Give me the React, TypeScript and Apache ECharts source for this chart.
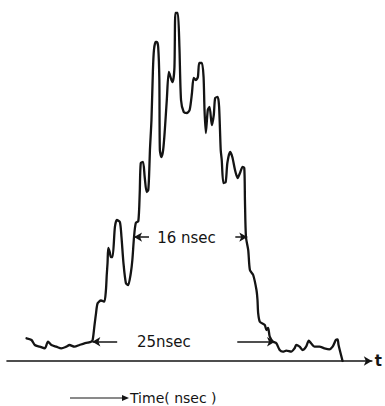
import React, { useEffect, useRef } from "react";
import * as echarts from "echarts";

// Time in nsec
const timeNs = [
  2.68, 3.36, 3.81, 4.49, 5.17, 5.62, 6.08, 6.76, 7.44, 8.12, 8.57, 9.25, 9.93, 10.61, 11.06, 11.52,
  11.74, 11.97, 12.2, 12.42, 12.88, 13.33, 13.56, 13.67, 13.78, 13.88, 14.08, 14.24, 14.46, 14.79,
  15.06, 15.47, 15.69, 15.96, 16.29, 16.6, 16.97, 17.18, 17.41, 17.65, 18.0, 18.19, 18.33, 18.64,
  18.87, 19.14, 19.36, 19.5, 19.59, 19.8, 20.0, 20.14, 20.37, 20.54, 20.72, 20.88, 20.95, 21.16,
  21.4, 21.63, 21.9, 22.18, 22.54, 22.72, 22.95, 23.09, 23.4, 23.63, 23.85, 24.22, 24.67, 25.03,
  25.35, 25.58, 25.89, 26.16, 26.35, 26.71, 26.94, 27.07, 27.25, 27.52, 27.76, 28.07, 28.34, 28.53,
  28.88, 29.07, 29.29, 29.43, 29.66, 29.97, 30.2, 30.57, 30.88, 31.25, 31.61, 31.93, 32.29, 32.52,
  32.61, 32.75, 33.06, 33.29, 33.74, 34.19, 34.33, 34.42, 34.65, 35.33, 35.55, 35.78, 36.01, 36.46,
  36.91, 37.37, 37.82, 38.27, 38.95, 39.41, 39.63, 40.1, 40.54, 40.99, 41.36, 41.67, 42.14, 42.82,
  43.5, 44.18, 44.63, 45.07, 45.31, 45.44, 45.99,
];

// Signal amplitude (arbitrary units)
const amplitude = [
  6.49, 6.0, 4.57, 4.09, 3.63, 5.51, 4.57, 4.09, 3.63, 4.09, 4.57, 4.09, 4.57, 5.06, 5.23, 5.51,
  6.0, 9.8, 13.63, 16.49, 17.29, 16.94, 20.29, 24.57, 28.0, 32.29, 31.14, 29.71, 29.71, 38.29,
  40.29, 39.71, 35.43, 28.0, 22.29, 21.71, 25.14, 28.86, 35.43, 39.43, 40.0, 48.0, 56.57, 56.86,
  52.57, 48.29, 48.86, 54.57, 60.29, 68.86, 83.14, 88.86, 91.14, 91.14, 89.71, 80.29, 60.29, 58.29,
  60.29, 66.0, 74.57, 82.57, 80.29, 79.71, 84.0, 99.43, 99.43, 89.71, 74.57, 71.14, 70.86, 71.71,
  76.57, 80.86, 80.29, 81.14, 85.14, 85.14, 81.14, 71.71, 65.14, 71.71, 72.57, 67.43, 70.29, 75.14,
  75.43, 72.57, 60.29, 57.43, 50.86, 51.14, 56.57, 59.71, 58.29, 54.57, 52.29, 53.71, 55.43, 55.14,
  46.0, 35.43, 31.71, 26.0, 24.57, 20.29, 17.43, 13.71, 11.23, 10.29, 8.86, 9.43, 6.94, 5.51,
  5.06, 3.14, 2.66, 2.94, 2.66, 3.63, 4.57, 4.09, 3.14, 4.09, 5.8, 5.06, 4.09, 4.09,
  3.63, 3.34, 4.09, 6.0, 6.2, 4.57, 0,
];

// Width markers: [fromT, toT, level]
const fwhmArrows = [
  [19.46, 17.41, 35.4],
  [31.29, 32.93, 35.4],
];
const baseArrows = [
  [15.1, 11.7, 5.5],
  [31.56, 36.73, 5.5],
];
const widthLabels = [
  { text: "16 nsec", t: 24.6, a: 35.2 },
  { text: "25nsec", t: 21.5, a: 5.4 },
];

const INK = "#141414";
const FONT = "DejaVu Sans";

export default function App() {
  const ref = useRef<HTMLDivElement>(null);
  useEffect(() => {
    document.body.style.margin = "0";
    if (!ref.current) return;
    const chart = echarts.init(ref.current, null, { renderer: "svg" });
    const data = timeNs.map((t, i) => [t, amplitude[i]]);
    const arrows = [...fwhmArrows, ...baseArrows].map(([a, b, y]) => [
      { coord: [a, y], symbol: "none" },
      { coord: [b, y], symbol: "arrow", symbolSize: [7, 8] },
    ]);
    chart.setOption({
      animation: false,
      backgroundColor: "#ffffff",
      grid: { left: 7, top: 11, width: 367.5, height: 350 },
      xAxis: {
        type: "value",
        min: 0,
        max: 50,
        name: "t",
        nameLocation: "end",
        nameGap: 3,
        nameTextStyle: { fontFamily: FONT, fontSize: 15, color: INK, fontWeight: "bold", padding: [0, 0, 4, 0] },
        axisLine: {
          show: true,
          onZero: false,
          symbol: ["none", "arrow"],
          symbolSize: [7, 8],
          lineStyle: { color: INK, width: 1.6 },
        },
        axisTick: { show: false },
        axisLabel: { show: false },
        splitLine: { show: false },
      },
      yAxis: {
        type: "value",
        min: 0,
        max: 100,
        show: false,
      },
      series: [
        {
          type: "line",
          data,
          smooth: 0.25,
          showSymbol: false,
          symbol: "none",
          lineStyle: { color: INK, width: 2.3, join: "round", cap: "round" },
          markLine: {
            silent: true,
            symbol: ["none", "arrow"],
            symbolSize: 8,
            lineStyle: { type: "solid", color: INK, width: 1.5 },
            label: { show: false },
            data: arrows,
          },
          markPoint: {
            silent: true,
            symbol: "circle",
            symbolSize: 1,
            itemStyle: { color: "transparent" },
            label: {
              show: true,
              position: "inside",
              fontFamily: FONT,
              fontSize: 15,
              color: INK,
              formatter: (p: any) => p.name,
            },
            data: widthLabels.map((l) => ({ name: l.text, coord: [l.t, l.a] })),
          },
        },
      ],
      graphic: [
        {
          type: "line",
          shape: { x1: 70, y1: 398, x2: 124, y2: 398 },
          style: { stroke: INK, lineWidth: 1 },
        },
        {
          type: "polygon",
          shape: { points: [[122, 395], [129, 398], [122, 401]] },
          style: { fill: INK },
        },
        {
          type: "text",
          x: 130,
          y: 398,
          style: {
            text: "Time( nsec )",
            fontFamily: FONT,
            fontSize: 14,
            fill: INK,
            verticalAlign: "middle",
            align: "left",
          },
        },
      ],
    });
    return () => chart.dispose();
  }, []);
  return <div ref={ref} style={{ width: 385, height: 406 }} />;
}
